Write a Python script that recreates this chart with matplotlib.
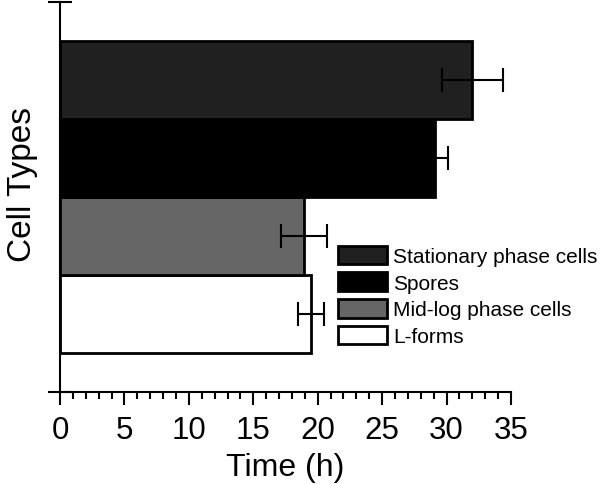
import matplotlib
matplotlib.use("Agg")
import matplotlib.pyplot as plt
from matplotlib.ticker import MultipleLocator

# Data (bottom to top)
cell_types = ["L-forms", "Mid-log phase cells", "Spores", "Stationary phase cells"]
times = [19.45, 18.95, 29.1, 32.0]
errors = [1.0, 1.8, 1.0, 2.35]
colors = ["#ffffff", "#666666", "#000000", "#202020"]

plt.rcParams["font.family"] = ["Liberation Sans", "DejaVu Sans"]

fig = plt.figure(figsize=(6.0, 4.85), dpi=100)
ax = fig.add_axes([0.1, 0.19, 0.7517, 0.804])

pos = list(range(len(cell_types)))
bars = ax.barh(pos, times, height=1.0, color=colors, edgecolor="black",
               linewidth=2.0, zorder=2)
ax.errorbar(times, pos, xerr=errors, fmt="none", ecolor="black",
            elinewidth=1.5, capsize=8.5, capthick=1.5, zorder=3)

ax.set_xlim(0, 35)
ax.set_ylim(-1, 4)
ax.xaxis.set_major_locator(MultipleLocator(5))
ax.xaxis.set_minor_locator(MultipleLocator(1))
ax.set_yticks([-1, 4])
ax.set_yticklabels([])
ax.tick_params(axis="x", which="major", direction="out", length=9.5, width=1.5,
               labelsize=22.5, pad=7)
ax.tick_params(axis="x", which="minor", direction="out", length=5, width=1.5)
ax.tick_params(axis="y", which="major", direction="inout", length=17, width=1.5)

for side in ["top", "right"]:
    ax.spines[side].set_visible(False)
for side in ["left", "bottom"]:
    ax.spines[side].set_linewidth(1.5)

ax.set_xlabel("Time (h)", fontsize=23, labelpad=5)
ax.set_ylabel("Cell Types", fontsize=24)
ax.yaxis.set_label_coords(-0.048, 0.535)

# legend order: top bar first
handles = [bars[i] for i in reversed(pos)]
labels = [cell_types[i] for i in reversed(pos)]
ax.legend(handles, labels, loc="upper left", bbox_to_anchor=(0.546, 0.513),
          bbox_transform=fig.transFigure, frameon=False, fontsize=15,
          handlelength=2.35, handleheight=1.0, labelspacing=0.3,
          handletextpad=0.3, borderpad=0)

fig.savefig("out.png", dpi=100)
